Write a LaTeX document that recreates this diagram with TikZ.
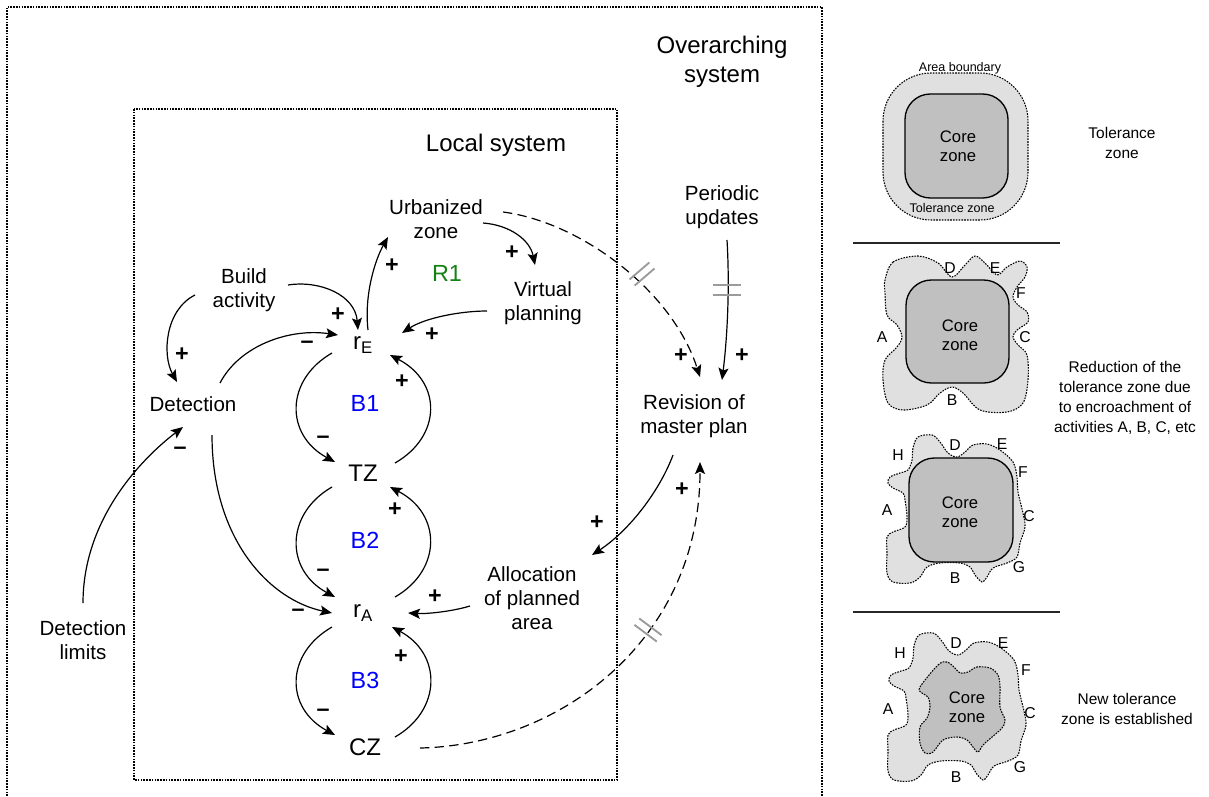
\documentclass[tikz,border=0pt]{standalone}
\usepackage{fontspec}
\setmainfont{Liberation Sans}
\usetikzlibrary{arrows.meta,calc}
\definecolor{lgray}{RGB}{224,224,224}
\definecolor{cgray}{RGB}{192,192,192}
\definecolor{hgray}{RGB}{155,155,155}
\definecolor{rgreen}{RGB}{20,130,20}
\definecolor{bblue}{RGB}{0,0,255}
\begin{document}
\begin{tikzpicture}[x=0.75pt,y=-0.75pt,
  lbl/.style={font=\fontsize{15.4}{18}\selectfont, align=center, inner sep=0pt},
  var/.style={font=\fontsize{18}{21}\selectfont, inner sep=0pt},
  ttl/.style={font=\fontsize{18}{22}\selectfont, align=center, inner sep=0pt},
  loopname/.style={font=\fontsize{17.5}{20}\selectfont, inner sep=0pt},
  sgn/.style={font=\fontsize{17.5}{17.5}\selectfont\bfseries, inner sep=0pt},
  link/.style={line width=0.9pt, -{Stealth[length=9pt,width=7.5pt,inset=1.8pt]}},
  dlink/.style={link, dash pattern=on 7pt off 4pt},
  frame/.style={line width=0.8pt, dash pattern=on 1.2pt off 0.9pt},
  hash/.style={hgray, line width=1.4pt},
  zonedot/.style={line width=0.8pt, dash pattern=on 1.2pt off 0.9pt},
  core/.style={fill=cgray, draw=black, line width=1pt, rounded corners=19pt},
  small/.style={font=\fontsize{9.4}{11}\selectfont, inner sep=0pt},
  corelbl/.style={font=\fontsize{12.5}{14.5}\selectfont, align=center, inner sep=0pt},
  letter/.style={font=\fontsize{11.8}{13}\selectfont, inner sep=0pt},
  desc/.style={font=\fontsize{11.6}{15}\selectfont, align=center, inner sep=0pt},
  sep/.style={line width=1pt, black!85}
]
\useasboundingbox (0,0) rectangle (1209,796);

% frames
\draw[frame] (7,796) -- (7,7) -- (822,7) -- (822,796);
\draw[frame] (134,109) rectangle (617,780);

% titles
\node[ttl] (over) at (722,62) {Overarching\\system};
\node[ttl] (local) at (496,145) {Local system};

% variables
\node[lbl] (urb) at (436,219) {Urbanized\\zone};
\node[loopname, text=rgreen] (r1) at (447,273) {R1};
\node[lbl] (build) at (244,290) {Build\\activity};
\node[lbl] (virt) at (543,303) {Virtual\\planning};
\node[var] (rE) at (363,345) {r\textsubscript{E}};
\node[lbl] (det) at (193,404) {Detection};
\node[loopname, text=bblue] (b1) at (365,403) {B1};
\node[var] (tz) at (363,473) {TZ};
\node[loopname, text=bblue] (b2) at (365,540) {B2};
\node[var] (rA) at (363,613) {r\textsubscript{A}};
\node[loopname, text=bblue] (b3) at (365,680) {B3};
\node[var] (cz) at (365,747) {CZ};
\node[lbl] (detlim) at (83,640) {Detection\\limits};
\node[lbl] (peri) at (722,207) {Periodic\\updates};
\node[lbl] (rev) at (694,416) {Revision of\\master plan};
\node[lbl] (alloc) at (532,598) {Allocation\\of planned\\area};

% connectors
\draw[link] ($(build)+(44,-5)$) .. controls (320,280) and (355,295) .. ($(rE)+(-5,-15)$);
\draw[link] ($(build)+(-49,5)$) .. controls (165,310) and (162,355) .. ($(det)+(-16,-22)$);
\draw[link] ($(det)+(27,-21)$) .. controls (240,345) and (290,328) .. ($(rE)+(-25,-10)$);
\draw[link] ($(rE)+(5,-15)$) .. controls (364,295) and (375,260) .. ($(urb)+(-48,18)$);
\draw[link] ($(urb)+(47,4)$) .. controls (510,225) and (530,240) .. ($(virt)+(-8,-38)$);
\draw[link] ($(virt)+(-56,8)$) .. controls (460,311) and (425,318) .. ($(rE)+(39,-12)$);
% B1
\draw[link] ($(rE)+(-31,8)$) .. controls (285,380) and (285,435) .. ($(tz)+(-28,-11)$);
\draw[link] ($(tz)+(32,-10)$) .. controls (442,436) and (442,382) .. ($(rE)+(27,10)$);
% B2
\draw[link] ($(tz)+(-31,14)$) .. controls (285,514) and (285,570) .. ($(rA)+(-28,-16)$);
\draw[link] ($(rA)+(32,-16)$) .. controls (442,570) and (442,514) .. ($(tz)+(27,14)$);
% B3
\draw[link] ($(rA)+(-31,14)$) .. controls (285,654) and (285,708) .. ($(cz)+(-30,-12)$);
\draw[link] ($(cz)+(30,-10)$) .. controls (442,710) and (442,654) .. ($(rA)+(29,14)$);
% others
\draw[link] ($(det)+(19,31)$) .. controls (212,540) and (270,600) .. ($(rA)+(-31,0)$);
\draw[link] ($(detlim)+(0,-37)$) .. controls (83,520) and (140,460) .. ($(det)+(-10,23)$);
\draw[link] ($(alloc)+(-62,8)$) .. controls (450,612) and (425,614) .. ($(rA)+(45,0)$);
\draw[link] ($(rev)+(-21,39)$) .. controls (660,490) and (630,530) .. ($(alloc)+(60,-43)$);
\draw[link] ($(peri)+(5,33)$) .. controls (730,290) and (727,340) .. ($(rev)+(28,-36)$);
\draw[dlink] ($(urb)+(67,-7)$) .. controls (580,222) and (672,290) .. ($(rev)+(6,-39)$);
\draw[dlink] ($(cz)+(55,1)$) .. controls (560,745) and (700,640) .. ($(rev)+(6,46)$);

% delay marks
\draw[hash] (649.3,262.5) -- (629.5,279.5);
\draw[hash] (654.5,268.5) -- (634.7,285.5);
\draw[hash] (713,285) -- (741,285);
\draw[hash] (713,295) -- (741,295);
\draw[hash] (656.8,641.6) -- (634.4,624.8);
\draw[hash] (661.6,635.2) -- (639.2,618.4);

% polarity signs
\node[sgn] (s1) at (182,355) {+};
\node[sgn] (s2) at (338,315) {+};
\node[sgn] (s3) at (307,345) {–};
\node[sgn] (s4) at (392,266) {+};
\node[sgn] (s5) at (512,253) {+};
\node[sgn] (s6) at (432,335) {+};
\node[sgn] (s7) at (402,382) {+};
\node[sgn] (s8) at (323,440) {–};
\node[sgn] (s9) at (395,510) {+};
\node[sgn] (s10) at (323,573) {–};
\node[sgn] (s11) at (298,613) {–};
\node[sgn] (s12) at (435,597) {+};
\node[sgn] (s13) at (401,657) {+};
\node[sgn] (s14) at (323,713) {–};
\node[sgn] (s15) at (180,451) {–};
\node[sgn] (s16) at (681,356) {+};
\node[sgn] (s17) at (742,356) {+};
\node[sgn] (s18) at (597,523) {+};
\node[sgn] (s19) at (682,490) {+};

% ---------- right panels ----------
\draw[sep] (853,243) -- (1060,243);
\draw[sep] (853,612) -- (1060,612);

% panel 1
\draw[zonedot, fill=lgray, rounded corners=36pt] (883,73) rectangle (1028,220);
\draw[core] (905,94) rectangle (1008,198);
\node[corelbl] (c1) at (958,146) {Core\\zone};
\node[small] (ab) at (960,68) {Area boundary};
\node[small] (tzl) at (952,208) {Tolerance zone};
\node[desc] (d1) at (1122,143) {Tolerance\\zone};

% panel 2
\draw[zonedot, fill=lgray] plot[smooth cycle, tension=0.55] coordinates {
 (885,280) (893,262) (918,256) (938,263) (952,277) (965,265) (975,256) (985,263)
 (997,275) (1007,267) (1020,261) (1027,267) (1025,277) (1017,287) (1013,297)
 (1018,305) (1027,312) (1028,322) (1017,330) (1013,337) (1018,345) (1027,355)
 (1028,380) (1023,403) (1007,412) (980,410) (963,393) (952,387) (940,393)
 (927,405) (903,410) (888,403) (883,380) (885,360) (897,347) (902,337)
 (897,325) (887,315) (885,293)};
\draw[core] (906,280) rectangle (1009,383);
\node[corelbl] (c2) at (960,335) {Core\\zone};
\node[letter] (p2d) at (950,268) {D};
\node[letter] (p2e) at (995,268) {E};
\node[letter] (p2f) at (1021,293) {F};
\node[letter] (p2a) at (882,337) {A};
\node[letter] (p2c) at (1025,337) {C};
\node[letter] (p2b) at (952,400) {B};
\node[desc] (d2) at (1125,398) {Reduction of the\\tolerance zone due\\to encroachment of\\activities A, B, C, etc};

% panel 3
\draw[zonedot, fill=lgray] plot[smooth cycle, tension=0.55] coordinates {
 (913,448) (918,437) (932,435) (940,442) (948,453) (957,457) (965,452) (973,445)
 (987,444) (1000,450) (1013,462) (1017,477) (1018,492) (1023,513) (1025,527)
 (1020,543) (1017,557) (1007,563) (993,568) (987,577) (982,582) (975,575)
 (970,567) (960,563) (940,563) (927,567) (920,577) (910,583) (893,582)
 (887,573) (887,553) (887,537) (893,532) (905,527) (907,517) (905,500)
 (903,493) (893,488) (888,483) (890,477) (900,473) (908,470) (912,460)};
\draw[core] (909,458) rectangle (1013,562);
\node[corelbl] (c3) at (960,512) {Core\\zone};
\node[letter] (p3h) at (898,455) {H};
\node[letter] (p3d) at (955,445) {D};
\node[letter] (p3e) at (1002,444) {E};
\node[letter] (p3f) at (1023,472) {F};
\node[letter] (p3a) at (887,510) {A};
\node[letter] (p3c) at (1029,516) {C};
\node[letter] (p3g) at (1019,567) {G};
\node[letter] (p3b) at (955,578) {B};

% panel 4
\begin{scope}[shift={(1,198)}]
\draw[zonedot, fill=lgray] plot[smooth cycle, tension=0.55] coordinates {
 (913,448) (918,437) (932,435) (940,442) (948,453) (957,457) (965,452) (973,445)
 (987,444) (1000,450) (1013,462) (1017,477) (1018,492) (1023,513) (1025,527)
 (1020,543) (1017,557) (1007,563) (993,568) (987,577) (982,582) (975,575)
 (970,567) (960,563) (940,563) (927,567) (920,577) (910,583) (893,582)
 (887,573) (887,553) (887,537) (893,532) (905,527) (907,517) (905,500)
 (903,493) (893,488) (888,483) (890,477) (900,473) (908,470) (912,460)};
\end{scope}
\draw[zonedot, fill=cgray] plot[smooth cycle, tension=0.55] coordinates {
 (920,687) (938,665) (947,662) (955,668) (960,673) (968,672) (977,667) (990,668)
 (998,675) (1000,687) (1000,707) (1005,720) (1002,728) (992,737) (983,745)
 (978,752) (973,747) (967,740) (957,737) (943,740) (933,752) (925,753)
 (920,743) (920,727) (927,718) (930,707) (928,697) (922,693)};
\node[corelbl] (c4) at (967,707) {Core\\zone};
\node[letter] (p4h) at (900,653) {H};
\node[letter] (p4d) at (956,643) {D};
\node[letter] (p4e) at (1003,643) {E};
\node[letter] (p4f) at (1026,670) {F};
\node[letter] (p4a) at (888,709) {A};
\node[letter] (p4c) at (1030,713) {C};
\node[letter] (p4g) at (1020,767) {G};
\node[letter] (p4b) at (956,777) {B};
\node[desc] (d4) at (1127,709) {New tolerance\\zone is established};
\end{tikzpicture}
\end{document}
